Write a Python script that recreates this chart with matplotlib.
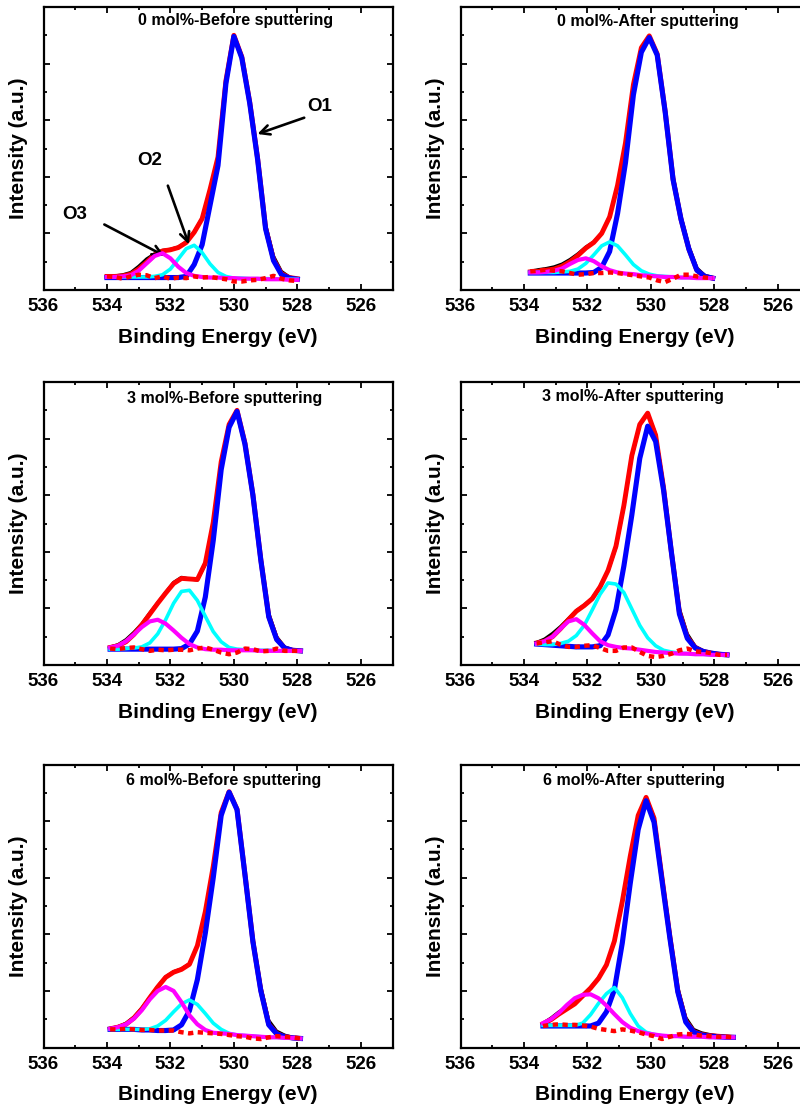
import matplotlib
matplotlib.use("Agg")
import matplotlib.pyplot as plt
from matplotlib.ticker import MultipleLocator

plt.rcParams['font.family'] = ['Liberation Sans', 'DejaVu Sans']
plt.rcParams['font.weight'] = 'bold'

# ---- O 1s spectra (binding energy in eV, intensity in a.u.) ----
# raw = measured, fit = envelope, o1/o2/o3 = fitted components, bg = background

# 0 mol% before sputtering
e_0b = [534.0, 533.75, 533.5, 533.25, 533.0, 532.75, 532.5, 532.25, 532.0, 531.75, 531.5, 531.25, 531.0,
        530.75, 530.5, 530.25, 530.0, 529.75, 529.5, 529.25, 529.0, 528.75, 528.5, 528.25, 528.0]
raw_0b = [0.25, 0.25, 0.27, 0.31, 0.42, 0.55, 0.64, 0.70, 0.72, 0.76, 0.85, 1.03, 1.27,
          1.78, 2.35, 3.70, 4.50, 4.14, 3.36, 2.38, 1.16, 0.60, 0.33, 0.23, 0.20]
fit_0b = [0.24, 0.24, 0.25, 0.28, 0.37, 0.49, 0.62, 0.69, 0.71, 0.75, 0.84, 1.02, 1.26,
          1.78, 2.35, 3.70, 4.50, 4.12, 3.32, 2.32, 1.10, 0.54, 0.29, 0.22, 0.20]
o1_0b = [0.22, 0.22, 0.22, 0.22, 0.22, 0.22, 0.22, 0.22, 0.22, 0.22, 0.24, 0.45, 0.80,
         1.50, 2.20, 3.65, 4.48, 4.10, 3.30, 2.30, 1.08, 0.52, 0.27, 0.21, 0.19]
o2_0b = [0.23, 0.23, 0.23, 0.23, 0.23, 0.23, 0.24, 0.27, 0.37, 0.55, 0.73, 0.79, 0.66,
         0.46, 0.31, 0.24, 0.21, 0.21, 0.20, 0.20, 0.20, 0.20, 0.19, 0.19, 0.19]
o3_0b = [0.23, 0.23, 0.24, 0.26, 0.34, 0.47, 0.60, 0.65, 0.56, 0.41, 0.30, 0.25, 0.23,
         0.22, 0.22, 0.21, 0.21, 0.20, 0.20, 0.20, 0.19, 0.19, 0.19, 0.18, 0.18]
bg_0b = [0.24, 0.23, 0.20, 0.24, 0.27, 0.26, 0.21, 0.24, 0.20, 0.22, 0.21, 0.24, 0.22,
         0.23, 0.21, 0.19, 0.15, 0.15, 0.17, 0.18, 0.21, 0.25, 0.20, 0.17, 0.16]

# 0 mol% after sputtering
e_0a = [533.8, 533.55, 533.3, 533.05, 532.8, 532.55, 532.3, 532.05, 531.8, 531.55, 531.3, 531.05,
        530.8, 530.55, 530.3, 530.05, 529.8, 529.55, 529.3, 529.05, 528.8, 528.55, 528.3, 528.05]
raw_0a = [0.33, 0.36, 0.38, 0.41, 0.46, 0.54, 0.64, 0.76, 0.85, 1.01, 1.30, 1.85,
          2.60, 3.62, 4.27, 4.49, 4.18, 3.20, 2.02, 1.30, 0.77, 0.39, 0.26, 0.22]
fit_0a = [0.32, 0.33, 0.35, 0.37, 0.42, 0.50, 0.61, 0.74, 0.84, 1.00, 1.29, 1.85,
          2.60, 3.63, 4.28, 4.49, 4.17, 3.16, 1.96, 1.25, 0.72, 0.35, 0.24, 0.21]
o1_0a = [0.30, 0.30, 0.30, 0.30, 0.30, 0.30, 0.30, 0.30, 0.31, 0.40, 0.68, 1.35,
         2.25, 3.45, 4.20, 4.46, 4.15, 3.15, 1.95, 1.25, 0.72, 0.35, 0.24, 0.21]
o2_0a = [0.31, 0.31, 0.31, 0.31, 0.32, 0.33, 0.37, 0.47, 0.62, 0.78, 0.85, 0.78,
         0.62, 0.45, 0.34, 0.28, 0.25, 0.24, 0.23, 0.22, 0.22, 0.21, 0.21, 0.21]
o3_0a = [0.31, 0.31, 0.32, 0.34, 0.38, 0.46, 0.53, 0.56, 0.51, 0.42, 0.35, 0.31,
         0.29, 0.28, 0.26, 0.25, 0.24, 0.23, 0.23, 0.22, 0.22, 0.21, 0.21, 0.21]
bg_0a = [0.33, 0.34, 0.36, 0.34, 0.33, 0.30, 0.27, 0.28, 0.30, 0.30, 0.31, 0.30,
         0.28, 0.26, 0.24, 0.22, 0.17, 0.14, 0.20, 0.27, 0.27, 0.24, 0.22, 0.21]

# 3 mol% before sputtering
e_3b = [533.9, 533.65, 533.4, 533.15, 532.9, 532.65, 532.4, 532.15, 531.9, 531.65, 531.4, 531.15, 530.9,
        530.65, 530.4, 530.15, 529.9, 529.65, 529.4, 529.15, 528.9, 528.65, 528.4, 528.15, 527.9]
raw_3b = [0.32, 0.36, 0.45, 0.58, 0.73, 0.92, 1.10, 1.28, 1.46, 1.55, 1.52, 1.50, 1.78,
          2.50, 3.58, 4.24, 4.50, 3.94, 3.05, 1.92, 0.92, 0.50, 0.32, 0.27, 0.25]
fit_3b = [0.31, 0.34, 0.41, 0.54, 0.71, 0.90, 1.09, 1.27, 1.44, 1.53, 1.52, 1.51, 1.80,
          2.52, 3.59, 4.25, 4.50, 3.92, 3.01, 1.86, 0.86, 0.46, 0.30, 0.26, 0.25]
o1_3b = [0.28, 0.28, 0.28, 0.28, 0.28, 0.28, 0.28, 0.28, 0.28, 0.29, 0.37, 0.60, 1.20,
         2.20, 3.45, 4.20, 4.48, 3.90, 3.00, 1.85, 0.85, 0.45, 0.30, 0.26, 0.25]
o2_3b = [0.28, 0.28, 0.29, 0.30, 0.32, 0.39, 0.55, 0.80, 1.09, 1.30, 1.32, 1.14, 0.86,
         0.59, 0.41, 0.31, 0.28, 0.27, 0.26, 0.26, 0.26, 0.25, 0.25, 0.25, 0.25]
o3_3b = [0.31, 0.34, 0.42, 0.54, 0.67, 0.77, 0.80, 0.73, 0.61, 0.48, 0.37, 0.31, 0.28,
         0.27, 0.27, 0.26, 0.26, 0.26, 0.26, 0.25, 0.25, 0.25, 0.25, 0.25, 0.25]
bg_3b = [0.29, 0.28, 0.30, 0.31, 0.28, 0.25, 0.27, 0.26, 0.27, 0.27, 0.26, 0.29, 0.31,
         0.27, 0.22, 0.19, 0.22, 0.29, 0.28, 0.24, 0.25, 0.29, 0.25, 0.25, 0.25]

# 3 mol% after sputtering
e_3a = [533.6, 533.35, 533.1, 532.85, 532.6, 532.35, 532.1, 531.85, 531.6, 531.35, 531.1, 530.85, 530.6,
        530.35, 530.1, 529.85, 529.6, 529.35, 529.1, 528.85, 528.6, 528.35, 528.1, 527.85, 527.6]
raw_3a = [0.40, 0.46, 0.56, 0.68, 0.82, 0.96, 1.06, 1.18, 1.39, 1.66, 2.08, 2.80, 3.68,
          4.24, 4.45, 4.08, 3.18, 2.05, 1.00, 0.55, 0.33, 0.25, 0.21, 0.19, 0.18]
fit_3a = [0.39, 0.42, 0.50, 0.64, 0.80, 0.95, 1.05, 1.17, 1.38, 1.67, 2.10, 2.82, 3.70,
          4.25, 4.45, 4.06, 3.13, 1.98, 0.93, 0.49, 0.31, 0.24, 0.21, 0.19, 0.18]
o1_3a = [0.37, 0.36, 0.35, 0.34, 0.33, 0.32, 0.32, 0.32, 0.34, 0.53, 0.98, 1.75, 2.65,
         3.65, 4.22, 3.95, 3.09, 1.98, 0.90, 0.47, 0.30, 0.24, 0.21, 0.19, 0.18]
o2_3a = [0.37, 0.36, 0.36, 0.38, 0.42, 0.52, 0.70, 0.97, 1.25, 1.45, 1.43, 1.28, 0.99,
         0.70, 0.48, 0.34, 0.26, 0.23, 0.21, 0.20, 0.19, 0.19, 0.18, 0.18, 0.18]
o3_3a = [0.38, 0.42, 0.50, 0.64, 0.77, 0.81, 0.71, 0.56, 0.42, 0.35, 0.32, 0.30, 0.29,
         0.27, 0.25, 0.23, 0.22, 0.21, 0.20, 0.20, 0.19, 0.19, 0.18, 0.18, 0.18]
bg_3a = [0.38, 0.40, 0.42, 0.36, 0.32, 0.32, 0.34, 0.35, 0.30, 0.25, 0.25, 0.31, 0.31,
         0.23, 0.16, 0.14, 0.16, 0.20, 0.26, 0.29, 0.24, 0.23, 0.21, 0.18, 0.18]

# 6 mol% before sputtering
e_6b = [533.9, 533.65, 533.4, 533.15, 532.9, 532.65, 532.4, 532.15, 531.9, 531.65, 531.4, 531.15, 530.9,
        530.65, 530.4, 530.15, 529.9, 529.65, 529.4, 529.15, 528.9, 528.65, 528.4, 528.15, 527.9]
raw_6b = [0.34, 0.37, 0.43, 0.54, 0.70, 0.89, 1.08, 1.25, 1.34, 1.39, 1.48, 1.80, 2.40,
          3.20, 4.15, 4.52, 4.22, 3.10, 1.94, 1.08, 0.48, 0.29, 0.22, 0.18, 0.16]
fit_6b = [0.33, 0.36, 0.41, 0.52, 0.68, 0.88, 1.07, 1.24, 1.33, 1.38, 1.47, 1.80, 2.40,
          3.20, 4.15, 4.52, 4.21, 3.06, 1.88, 1.01, 0.41, 0.25, 0.19, 0.17, 0.16]
o1_6b = [0.32, 0.32, 0.32, 0.32, 0.31, 0.31, 0.30, 0.30, 0.31, 0.40, 0.65, 1.20, 2.02,
         3.00, 4.10, 4.51, 4.20, 3.05, 1.87, 1.00, 0.40, 0.24, 0.19, 0.17, 0.16]
o2_6b = [0.32, 0.32, 0.32, 0.32, 0.32, 0.33, 0.38, 0.48, 0.63, 0.77, 0.84, 0.76, 0.60,
         0.43, 0.32, 0.25, 0.22, 0.21, 0.20, 0.19, 0.18, 0.18, 0.17, 0.17, 0.16]
o3_6b = [0.33, 0.36, 0.41, 0.51, 0.66, 0.85, 1.00, 1.07, 1.00, 0.80, 0.57, 0.41, 0.31,
         0.26, 0.25, 0.24, 0.22, 0.21, 0.20, 0.19, 0.18, 0.18, 0.17, 0.17, 0.16]
bg_6b = [0.32, 0.32, 0.33, 0.32, 0.31, 0.31, 0.30, 0.30, 0.30, 0.27, 0.25, 0.27, 0.26,
         0.25, 0.24, 0.22, 0.20, 0.19, 0.16, 0.15, 0.18, 0.20, 0.19, 0.18, 0.16]

# 6 mol% after sputtering
e_6a = [533.4, 533.15, 532.9, 532.65, 532.4, 532.15, 531.9, 531.65, 531.4, 531.15, 530.9, 530.65, 530.4,
        530.15, 529.9, 529.65, 529.4, 529.15, 528.9, 528.65, 528.4, 528.15, 527.9, 527.65, 527.4]
raw_6a = [0.43, 0.52, 0.63, 0.72, 0.80, 0.93, 1.06, 1.23, 1.46, 1.87, 2.56, 3.36, 4.08,
          4.42, 4.07, 3.05, 2.02, 1.06, 0.53, 0.32, 0.26, 0.23, 0.21, 0.20, 0.19]
fit_6a = [0.42, 0.49, 0.59, 0.68, 0.77, 0.91, 1.05, 1.22, 1.46, 1.88, 2.58, 3.38, 4.10,
          4.42, 4.05, 3.00, 1.96, 1.00, 0.47, 0.28, 0.23, 0.21, 0.20, 0.19, 0.18]
o1_6a = [0.38, 0.38, 0.38, 0.38, 0.38, 0.38, 0.38, 0.43, 0.63, 1.02, 1.85, 2.90, 3.85,
         4.36, 3.98, 2.95, 1.93, 0.98, 0.45, 0.27, 0.22, 0.20, 0.19, 0.18, 0.18]
o2_6a = [0.39, 0.39, 0.39, 0.39, 0.39, 0.43, 0.58, 0.78, 0.95, 1.06, 0.88, 0.60, 0.38,
         0.27, 0.23, 0.21, 0.20, 0.20, 0.19, 0.19, 0.19, 0.18, 0.18, 0.18, 0.18]
o3_6a = [0.43, 0.50, 0.61, 0.75, 0.87, 0.93, 0.94, 0.87, 0.74, 0.59, 0.45, 0.35, 0.29,
         0.25, 0.23, 0.21, 0.20, 0.20, 0.19, 0.19, 0.19, 0.18, 0.18, 0.18, 0.18]
bg_6a = [0.38, 0.40, 0.41, 0.40, 0.40, 0.39, 0.37, 0.33, 0.31, 0.29, 0.32, 0.30, 0.27,
         0.23, 0.20, 0.15, 0.19, 0.23, 0.24, 0.23, 0.21, 0.20, 0.19, 0.19, 0.18]

titles = ['0 mol%-Before sputtering', '0 mol%-After sputtering',
          '3 mol%-Before sputtering', '3 mol%-After sputtering',
          '6 mol%-Before sputtering', '6 mol%-After sputtering']
tick_energies = [536, 534, 532, 530, 528, 526]

spectra = [
    (e_0b, raw_0b, fit_0b, o1_0b, o2_0b, o3_0b, bg_0b),
    (e_0a, raw_0a, fit_0a, o1_0a, o2_0a, o3_0a, bg_0a),
    (e_3b, raw_3b, fit_3b, o1_3b, o2_3b, o3_3b, bg_3b),
    (e_3a, raw_3a, fit_3a, o1_3a, o2_3a, o3_3a, bg_3a),
    (e_6b, raw_6b, fit_6b, o1_6b, o2_6b, o3_6b, bg_6b),
    (e_6a, raw_6a, fit_6a, o1_6a, o2_6a, o3_6a, bg_6a),
]

fig = plt.figure(figsize=(8, 11.1), dpi=100)

W, H = 800.0, 1110.0
col_left = [43.5, 460.5]
row_top = [7, 382, 764.5]
ax_w, ax_h = 349, 283
# title anchor inside each panel (axes fraction)
title_pos = [(0.55, 0.953), (0.537, 0.947), (0.518, 0.943),
             (0.494, 0.95), (0.515, 0.943), (0.496, 0.945)]

axes = []
for i, (e, raw, fit, o1, o2, o3, bg) in enumerate(spectra):
    r, c = divmod(i, 2)
    ax = fig.add_axes([col_left[c] / W, 1 - (row_top[r] + ax_h) / H, ax_w / W, ax_h / H])
    axes.append(ax)

    ax.plot(e, raw, color='black', lw=2.2, zorder=2)
    ax.plot(e, fit, color='#ff0000', lw=3.5, zorder=3)
    ax.plot(e, o1, color='#0000ff', lw=3.7, zorder=4)
    ax.plot(e, o2, color='#00ffff', lw=2.6, zorder=5)
    ax.plot(e, o3, color='#ff00ff', lw=3.0, zorder=6)
    ax.plot(e, bg, color='#ff0000', lw=3.2, zorder=7,
            linestyle=(0, (1.2, 1.0)), dash_capstyle='butt')

    ax.set_xlim(536, 525)
    ax.set_ylim(0, 5)
    ax.set_xticks(tick_energies)
    ax.set_xticklabels([str(t) for t in tick_energies])
    ax.xaxis.set_minor_locator(MultipleLocator(1))
    ax.yaxis.set_major_locator(MultipleLocator(1))
    ax.yaxis.set_minor_locator(MultipleLocator(0.5))
    ax.set_yticklabels([])
    ax.tick_params(which='both', direction='in', top=True, right=True, width=1.3)
    ax.tick_params(which='major', length=4, labelsize=13.5, pad=6)
    ax.tick_params(which='minor', length=2.2)
    for lab in ax.get_xticklabels():
        lab.set_fontweight('bold')
    for sp in ax.spines.values():
        sp.set_linewidth(1.6)

    ax.set_xlabel('Binding Energy (eV)', fontsize=15, fontweight='bold', labelpad=9)
    ax.set_ylabel('Intensity (a.u.)', fontsize=15, fontweight='bold', labelpad=5)
    tx, ty = title_pos[i]
    ax.text(tx, ty, titles[i], transform=ax.transAxes, ha='center', va='center',
            fontsize=11.5, fontweight='bold')

# peak labels on the first panel
ax0 = axes[0]
arrow = dict(arrowstyle='->', lw=1.9, color='black', mutation_scale=17)
ax0.annotate('', xy=(529.34, 2.74), xytext=(527.70, 3.06), arrowprops=arrow)
ax0.text(527.29, 3.25, 'O1', fontsize=13.5, fontweight='bold', ha='center', va='center')
ax0.annotate('', xy=(531.39, 0.76), xytext=(532.11, 1.89), arrowprops=arrow)
ax0.text(532.64, 2.28, 'O2', fontsize=13.5, fontweight='bold', ha='center', va='center')
ax0.annotate('', xy=(532.11, 0.58), xytext=(534.16, 1.18), arrowprops=arrow)
ax0.text(535.01, 1.34, 'O3', fontsize=13.5, fontweight='bold', ha='center', va='center')

fig.savefig('out.png', dpi=100, facecolor='white')
